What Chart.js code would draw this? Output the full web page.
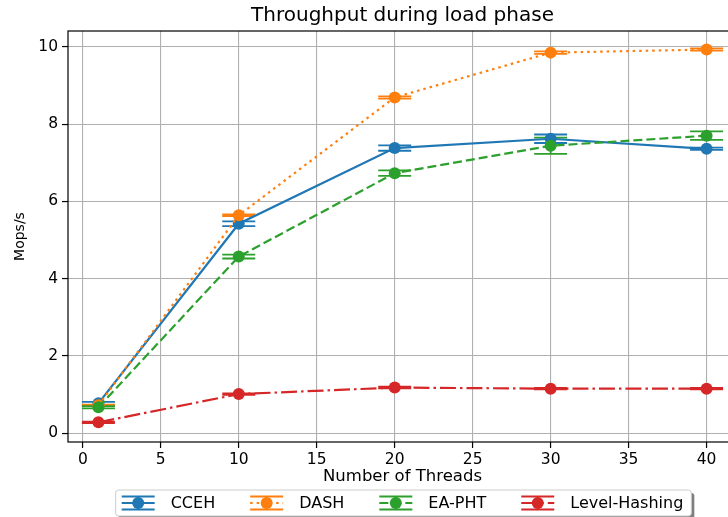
<!DOCTYPE html>
<html>
<head>
<meta charset="utf-8">
<script src="https://cdn.jsdelivr.net/npm/chart.js@4/dist/chart.umd.min.js"></script>
<style>
  body { margin: 0; background: #fff; overflow: hidden; }
</style>
</head>
<body>
<canvas id="loadChart" width="745" height="517"></canvas>
<script>
// numero di thread e throughput medio (Mops/s) con relativo errore
let threads = [1, 10, 20, 30, 40];
let xTicks = [0, 5, 10, 15, 20, 25, 30, 35, 40];
let yTicks = [0, 2, 4, 6, 8, 10];

let seriesNames = ['CCEH', 'DASH', 'EA-PHT', 'Level-Hashing'];
let ccehMean = [0.77, 5.42, 7.38, 7.62, 7.36];
let ccehErr = [0.04, 0.06, 0.07, 0.11, 0.03];
let dashMean = [0.72, 5.64, 8.69, 9.85, 9.93];
let dashErr = [0.02, 0.02, 0.03, 0.03, 0.03];
let eaMean = [0.67, 4.57, 6.73, 7.44, 7.70];
let eaErr = [0.03, 0.05, 0.07, 0.21, 0.11];
let lhMean = [0.28, 1.01, 1.18, 1.15, 1.15];
let lhErr = [0.02, 0.02, 0.02, 0.02, 0.02];

let colors = ['#1f77b4', '#ff7f0e', '#2ca02c', '#d62728'];
let dashes = [[], [2.5, 4], [9, 4], [16, 4, 2.5, 4]];

const FONT = '"DejaVu Sans", sans-serif';
const LINE_W = 2.2;
const CAP = 16.5;

Chart.defaults.color = '#000';
Chart.defaults.font.family = FONT;

function makeDataset(i, mean, err) {
  return {
    label: seriesNames[i],
    data: threads.map((t, k) => ({ x: t, y: mean[k] })),
    errors: err,
    borderColor: colors[i],
    backgroundColor: colors[i],
    borderWidth: LINE_W,
    borderDash: dashes[i],
    pointRadius: 6,
    pointBorderWidth: 0,
    pointBackgroundColor: colors[i],
    tension: 0,
    order: 3 - i
  };
}

/* barre d'errore disegnate sotto tutte le linee, come fa matplotlib */
const errorBars = {
  id: 'errorBars',
  beforeDatasetsDraw(chart) {
    let ctx = chart.ctx;
    let xs = chart.scales.x, ys = chart.scales.y;
    ctx.save();
    ctx.beginPath();
    ctx.rect(chart.chartArea.left, chart.chartArea.top, chart.chartArea.width, chart.chartArea.height);
    ctx.clip();
    chart.data.datasets.forEach((ds) => {
      ctx.strokeStyle = ds.borderColor;
      ctx.lineWidth = 1.8;
      ds.data.forEach((p, k) => {
        let px = xs.getPixelForValue(p.x);
        let top = ys.getPixelForValue(p.y + ds.errors[k]);
        let bot = ys.getPixelForValue(p.y - ds.errors[k]);
        ctx.beginPath();
        ctx.moveTo(px, top); ctx.lineTo(px, bot);
        ctx.moveTo(px - CAP, top); ctx.lineTo(px + CAP, top);
        ctx.moveTo(px - CAP, bot); ctx.lineTo(px + CAP, bot);
        ctx.stroke();
      });
    });
    ctx.restore();
  }
};

/* cornice del grafico (quattro lati) e legenda con ombra in basso */
const frameAndLegend = {
  id: 'frameAndLegend',
  afterDraw(chart) {
    let ctx = chart.ctx;
    let a = chart.chartArea;
    ctx.save();
    ctx.strokeStyle = '#000';
    ctx.lineWidth = 1.2;
    ctx.strokeRect(a.left, a.top, a.width, a.height);

    ctx.font = '16px ' + FONT;
    let handleLen = 33, textGap = 16, itemGap = 35;
    let widths = chart.data.datasets.map(ds => ctx.measureText(ds.label).width);
    let total = widths.reduce((s, w) => s + handleLen + textGap + w, 0) + itemGap * (widths.length - 1);
    let x0 = (a.left + a.right) / 2 - total / 2;
    let boxL = x0 - 6, boxR = x0 + total + 8;
    let boxT = chart.height - 27, boxH = 26;
    let cy = boxT + boxH / 2;

    ctx.fillStyle = 'rgba(0,0,0,0.5)';
    ctx.beginPath();
    ctx.roundRect(boxL + 3, boxT + 3, boxR - boxL, boxH, 3);
    ctx.fill();
    ctx.fillStyle = '#fff';
    ctx.strokeStyle = '#cccccc';
    ctx.lineWidth = 1;
    ctx.beginPath();
    ctx.roundRect(boxL, boxT, boxR - boxL, boxH, 3);
    ctx.fill();
    ctx.stroke();

    let x = x0;
    chart.data.datasets.forEach((ds, i) => {
      let mid = x + handleLen / 2;
      ctx.strokeStyle = ds.borderColor;
      ctx.lineWidth = LINE_W;
      ctx.setLineDash(ds.borderDash);
      ctx.beginPath();
      ctx.moveTo(x, cy); ctx.lineTo(x + handleLen, cy);
      ctx.stroke();
      ctx.setLineDash([]);
      ctx.lineWidth = 1.8;
      ctx.beginPath();
      ctx.moveTo(mid, cy - 6.5); ctx.lineTo(mid, cy + 6.5);
      ctx.moveTo(x, cy - 6.5); ctx.lineTo(x + handleLen, cy - 6.5);
      ctx.moveTo(x, cy + 6.5); ctx.lineTo(x + handleLen, cy + 6.5);
      ctx.stroke();
      ctx.fillStyle = ds.borderColor;
      ctx.beginPath();
      ctx.arc(mid, cy, 6, 0, Math.PI * 2);
      ctx.fill();
      ctx.fillStyle = '#000';
      ctx.textBaseline = 'middle';
      ctx.fillText(ds.label, x + handleLen + textGap, cy + 0.5);
      x += handleLen + textGap + widths[i] + itemGap;
    });
    ctx.restore();
  }
};

new Chart('loadChart', {
  type: 'line',
  data: {
    datasets: [
      makeDataset(0, ccehMean, ccehErr),
      makeDataset(1, dashMean, dashErr),
      makeDataset(2, eaMean, eaErr),
      makeDataset(3, lhMean, lhErr)
    ]
  },
  options: {
    responsive: false,
    animation: false,
    events: [],
    layout: { padding: { left: 0, right: 8, top: 0, bottom: 29 } },
    plugins: {
      legend: { display: false },
      tooltip: { enabled: false },
      title: {
        display: true,
        fullSize: false,
        text: 'Throughput during load phase',
        color: '#000',
        font: { size: 20, weight: 'normal', family: FONT },
        padding: { top: 3.5, bottom: 3.5 }
      }
    },
    scales: {
      x: {
        type: 'linear',
        min: -0.95,
        max: 41.95,
        afterBuildTicks: (s) => { s.ticks = xTicks.map(v => ({ value: v })); },
        afterFit: (s) => { s.height = 46; },
        border: { display: false },
        grid: { color: '#b0b0b0', lineWidth: 1.1, tickColor: '#000', tickWidth: 1.2, tickLength: 6 },
        ticks: { font: { size: 15.5 }, padding: 3, maxRotation: 0, callback: v => v },
        title: { display: true, text: 'Number of Threads', font: { size: 16.5 }, padding: { top: 0, bottom: 1 } }
      },
      y: {
        type: 'linear',
        min: -0.23,
        max: 10.41,
        afterBuildTicks: (s) => { s.ticks = yTicks.map(v => ({ value: v })); },
        afterFit: (s) => { s.width = 68; },
        border: { display: false },
        grid: { color: '#b0b0b0', lineWidth: 1.1, tickColor: '#000', tickWidth: 1.2, tickLength: 6 },
        ticks: { font: { size: 15.5 }, padding: 4, callback: v => v },
        title: { display: true, text: 'Mops/s', font: { size: 14 }, padding: { top: 11.6, bottom: 0 } }
      }
    }
  },
  plugins: [errorBars, frameAndLegend]
});
</script>
</body>
</html>
